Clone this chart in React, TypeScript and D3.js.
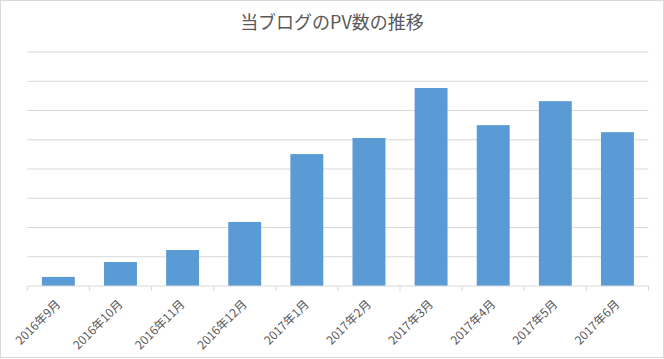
import React from "react";
import * as d3 from "d3";

const categories = ["2016年9月", "2016年10月", "2016年11月", "2016年12月", "2017年1月", "2017年2月", "2017年3月", "2017年4月", "2017年5月", "2017年6月"];
const pageViews = [310, 820, 1230, 2190, 4510, 5060, 6770, 5500, 6320, 5260];
const yTicks = [0, 1000, 2000, 3000, 4000, 5000, 6000, 7000, 8000];
const title = "当ブログのPV数の推移";

const W = 664;
const H = 359;
const left = 27.3;
const right = 648.5;
const top = 52;
const bottom = 286;

export default function App() {
  const x = d3.scaleBand<string>().domain(categories).range([left, right]).paddingInner(0.47).paddingOuter(0.235);
  const y = d3.scaleLinear().domain([0, 8000]).range([bottom, top]);
  const step = x.step();
  const font = "'Noto Sans CJK JP', 'Noto Sans', sans-serif";
  const grey = "#d9d9d9";
  const text = "#595959";
  return (
    <svg width={W} height={H} style={{ position: "absolute", left: 0, top: 0, background: "#fff" }}>
      <rect x={0.5} y={0.5} width={W - 1} height={H - 2} fill="#fff" stroke={grey} />
      <text x={332} y={29} textAnchor="middle" fontFamily={font} fontSize={18} fill={text}>
        {title}
      </text>
      {yTicks.slice(1).map((t) => (
        <line key={t} x1={left} x2={right} y1={y(t)} y2={y(t)} stroke={grey} strokeWidth={1} />
      ))}
      {pageViews.map((v, i) => (
        <rect key={categories[i]} x={x(categories[i])} y={y(v)} width={x.bandwidth()} height={y(0) - y(v)} fill="#5b9bd5" />
      ))}
      <line x1={left} x2={right} y1={bottom} y2={bottom} stroke={grey} strokeWidth={1} />
      {d3.range(categories.length + 1).map((i) => {
        const tx = left + i * step;
        return <line key={i} x1={tx} x2={tx} y1={bottom} y2={bottom + 5} stroke={grey} strokeWidth={1} />;
      })}
      {categories.map((c) => {
        const cx = (x(c) as number) + x.bandwidth() / 2;
        return (
          <text key={c} transform={`translate(${cx + 3},${bottom + 19}) rotate(-45)`} textAnchor="end" fontFamily={font} fontSize={12} fill={text}>
            {c}
          </text>
        );
      })}
    </svg>
  );
}
